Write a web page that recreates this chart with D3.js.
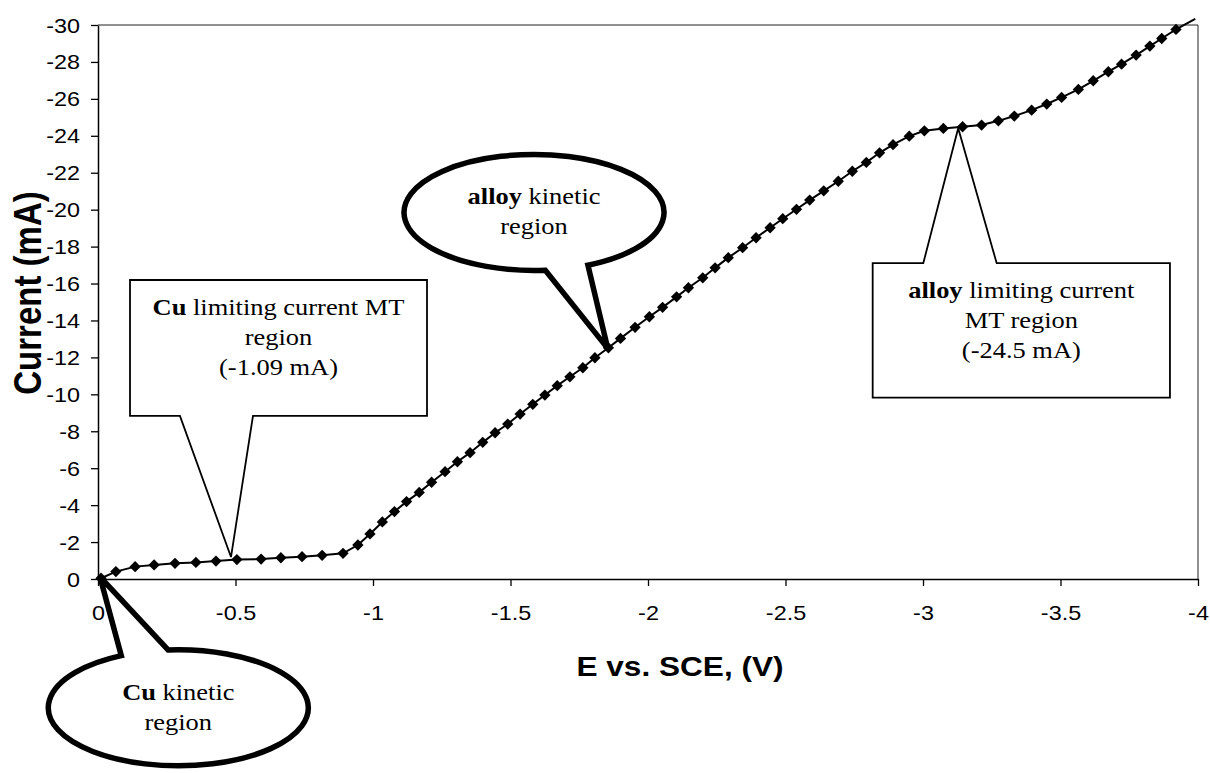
<!DOCTYPE html>
<html>
<head>
<meta charset="utf-8">
<script src="https://cdn.jsdelivr.net/npm/d3@7"></script>
<style>
  body { margin: 0; background: #fff; }
</style>
</head>
<body>
<div id="chart"></div>
<script>
// potential (V) and current (mA)
let potential = [-0.011, -0.065, -0.135, -0.204, -0.280, -0.356, -0.429, -0.505, -0.593, -0.665, -0.742, -0.815, -0.891, -0.945, -0.989,
    -1.034, -1.078, -1.122, -1.168, -1.213, -1.262, -1.307, -1.353, -1.399, -1.444, -1.490, -1.535, -1.581, -1.625, -1.670, -1.716, -1.763, -1.807, -1.856, -1.900,
    -1.953, -2.005, -2.053, -2.104, -2.147, -2.199, -2.244, -2.292, -2.344, -2.393, -2.444, -2.490, -2.540, -2.588, -2.639, -2.692, -2.743, -2.794, -2.842, -2.891,
    -2.950, -3.005, -3.074, -3.144, -3.213, -3.274, -3.332, -3.395, -3.450, -3.504, -3.565, -3.619, -3.674, -3.722, -3.775, -3.825, -3.868, -3.920, -3.990];
let current = [-0.04, -0.40, -0.67, -0.76, -0.85, -0.90, -0.97, -1.05, -1.08, -1.15, -1.21, -1.28, -1.39, -1.84, -2.44,
    -3.09, -3.65, -4.19, -4.69, -5.24, -5.81, -6.35, -6.84, -7.40, -7.92, -8.39, -8.93, -9.46, -9.96, -10.47, -10.95, -11.44, -11.98, -12.52, -13.03,
    -13.63, -14.20, -14.71, -15.28, -15.77, -16.31, -16.85, -17.40, -17.94, -18.48, -19.02, -19.51, -20.02, -20.52, -21.02, -21.54, -22.08, -22.56, -23.08, -23.52,
    -23.98, -24.27, -24.40, -24.49, -24.58, -24.81, -25.07, -25.39, -25.72, -26.08, -26.51, -26.98, -27.47, -27.88, -28.37, -28.86, -29.27, -29.76, -30.33];

let xTicks = [0, -0.5, -1, -1.5, -2, -2.5, -3, -3.5, -4];
let yTicks = d3.range(0, -31, -2);

let xTitle = "E vs. SCE, (V)";
let yTitle = "Current (mA)";

// callouts: tip / box given in axis units (V, mA)
let boxNotes = [
    { bold: "Cu", lines: [" limiting current MT", "region", "(-1.09 mA)"],
      x0: -0.1164, x1: -1.1964, top: -16.19, bottom: -8.83, base: [-0.298, -0.5636], tip: [-0.4836, -1.19], side: "bottom" },
    { bold: "alloy", lines: [" limiting current", "MT region", "(-24.5 mA)"],
      x0: -2.817, x1: -3.898, top: -17.10, bottom: -9.82, base: [-3.001, -3.268], tip: [-3.128, -24.41], side: "top" }
];
let bubbleNotes = [
    { bold: "alloy", lines: [" kinetic", "region"], cx: -1.5855, cy: -19.85, a0: 85, a1: 65.5, sweep: 1, tip: [-1.8535, -12.49] },
    { bold: "Cu", lines: [" kinetic", "region"], cx: -0.292, cy: 6.975, a0: 244, a1: 265.5, sweep: 0, tip: [-0.0073, -0.11] }
];

var width = 1210;
var height = 773;
var stretch = 1.17;   // text in the source picture is drawn wider than tall

let svg = d3.select("#chart").append("svg")
    .attr("width", width)
    .attr("height", height);

let x = d3.scaleLinear().domain([0, -4]).range([98, 1198]);
let y = d3.scaleLinear().domain([0, -30]).range([579, 25]);

// plot frame (top and right)
svg.append("path")
    .attr("d", "M" + x(0) + "," + y(-30) + "H" + x(-4) + "V" + y(0))
    .attr("fill", "none")
    .attr("stroke", "#222")
    .attr("stroke-width", 1);

let gx = svg.append("g")
    .attr("transform", "translate(0," + y(0) + ")")
    .call(d3.axisBottom(x).tickValues(xTicks).tickSize(7).tickSizeOuter(0).tickFormat(d => String(d)));
let gy = svg.append("g")
    .attr("transform", "translate(" + x(0) + ",0)")
    .call(d3.axisLeft(y).tickValues(yTicks).tickSize(7).tickSizeOuter(0).tickFormat(d => String(d)));

[gx, gy].forEach(g => {
    g.select(".domain").attr("stroke", "#000").attr("stroke-width", 1.5);
    g.selectAll(".tick line").attr("stroke", "#000").attr("stroke-width", 1.3);
    g.selectAll("text")
        .attr("font-family", "Arial, 'Liberation Sans', sans-serif")
        .attr("font-size", 20)
        .attr("fill", "#000")
        .attr("dy", null)
        .attr("x", 0)
        .attr("y", 0);
});
gx.selectAll("text").attr("transform", "translate(0,41) scale(" + stretch + ",1)");
gy.selectAll("text").attr("transform", "translate(-18,7) scale(" + stretch + ",1)");

// axis titles
svg.append("text")
    .attr("transform", "translate(" + 680 + "," + 676 + ") scale(" + stretch + ",1)")
    .attr("text-anchor", "middle")
    .attr("font-family", "Arial, 'Liberation Sans', sans-serif")
    .attr("font-weight", "bold")
    .attr("font-size", 27)
    .text(xTitle);

svg.append("text")
    .attr("transform", "translate(" + 41 + "," + 293 + ") scale(" + stretch + ",1) rotate(-90)")
    .attr("text-anchor", "middle")
    .attr("font-family", "Arial, 'Liberation Sans', sans-serif")
    .attr("font-weight", "bold")
    .attr("font-size", 33)
    .text(yTitle);

// curve
let line = d3.line()
    .x((d, i) => x(potential[i]))
    .y((d, i) => y(current[i]));

svg.append("path")
    .datum(potential)
    .attr("d", line)
    .attr("fill", "none")
    .attr("stroke", "#000")
    .attr("stroke-width", 2);

let marker = d3.symbol().type(d3.symbolSquare).size(64);
svg.selectAll(".pt")
    .data(potential.map((v, i) => [v, current[i]]).filter(d => d[1] >= -30))
    .enter()
    .append("path")
    .attr("class", "pt")
    .attr("d", marker)
    .attr("transform", d => "translate(" + x(d[0]) + "," + y(d[1]) + ") rotate(45)")
    .attr("fill", "#000");

// label helper: bold first word then the rest, lines centered
function writeLines(g, note, cx, firstBase, step) {
    note.lines.forEach((ln, k) => {
        let t = g.append("text")
            .attr("transform", "translate(" + cx + "," + (firstBase + k * step) + ") scale(1.15,1)")
            .attr("text-anchor", "middle")
            .attr("font-family", "'Times New Roman', 'Liberation Serif', serif")
            .attr("font-size", 23)
            .attr("fill", "#000");
        if (k == 0) {
            t.append("tspan").attr("font-weight", "bold").text(note.bold);
        }
        t.append("tspan").text(ln);
    });
}

// rectangular callouts
boxNotes.forEach(n => {
    let g = svg.append("g");
    let l = x(n.x0), r = x(n.x1), t = y(n.top), b = y(n.bottom);
    let tx = x(n.tip[0]), ty = y(n.tip[1]);
    let p;
    if (n.side == "bottom") {
        p = "M" + l + "," + t + "H" + r + "V" + b + "H" + x(n.base[1]) +
            "L" + tx + "," + ty + "L" + x(n.base[0]) + "," + b + "H" + l + "Z";
    } else {
        p = "M" + l + "," + t + "H" + x(n.base[0]) + "L" + tx + "," + ty +
            "L" + x(n.base[1]) + "," + t + "H" + r + "V" + b + "H" + l + "Z";
    }
    g.append("path")
        .attr("d", p)
        .attr("fill", "#fff")
        .attr("stroke", "#000")
        .attr("stroke-width", 1.8)
        .attr("stroke-linejoin", "miter");
    writeLines(g, n, (l + r) / 2, t + 35, 30);
});

// speech bubbles
let rx = 130, ry = 58;
bubbleNotes.forEach(n => {
    let g = svg.append("g");
    let cx = x(n.cx), cy = y(n.cy);
    let p0 = [cx + rx * Math.cos(n.a0 * Math.PI / 180), cy + ry * Math.sin(n.a0 * Math.PI / 180)];
    let p1 = [cx + rx * Math.cos(n.a1 * Math.PI / 180), cy + ry * Math.sin(n.a1 * Math.PI / 180)];
    let p = "M" + p0[0] + "," + p0[1] +
        "A" + rx + "," + ry + " 0 1 " + n.sweep + " " + p1[0] + "," + p1[1] +
        "L" + x(n.tip[0]) + "," + y(n.tip[1]) + "Z";
    g.append("path")
        .attr("d", p)
        .attr("fill", "#fff")
        .attr("stroke", "#000")
        .attr("stroke-width", 5.5)
        .attr("stroke-linejoin", "miter");
    writeLines(g, n, cx, cy - 8, 30);
});
</script>
</body>
</html>
